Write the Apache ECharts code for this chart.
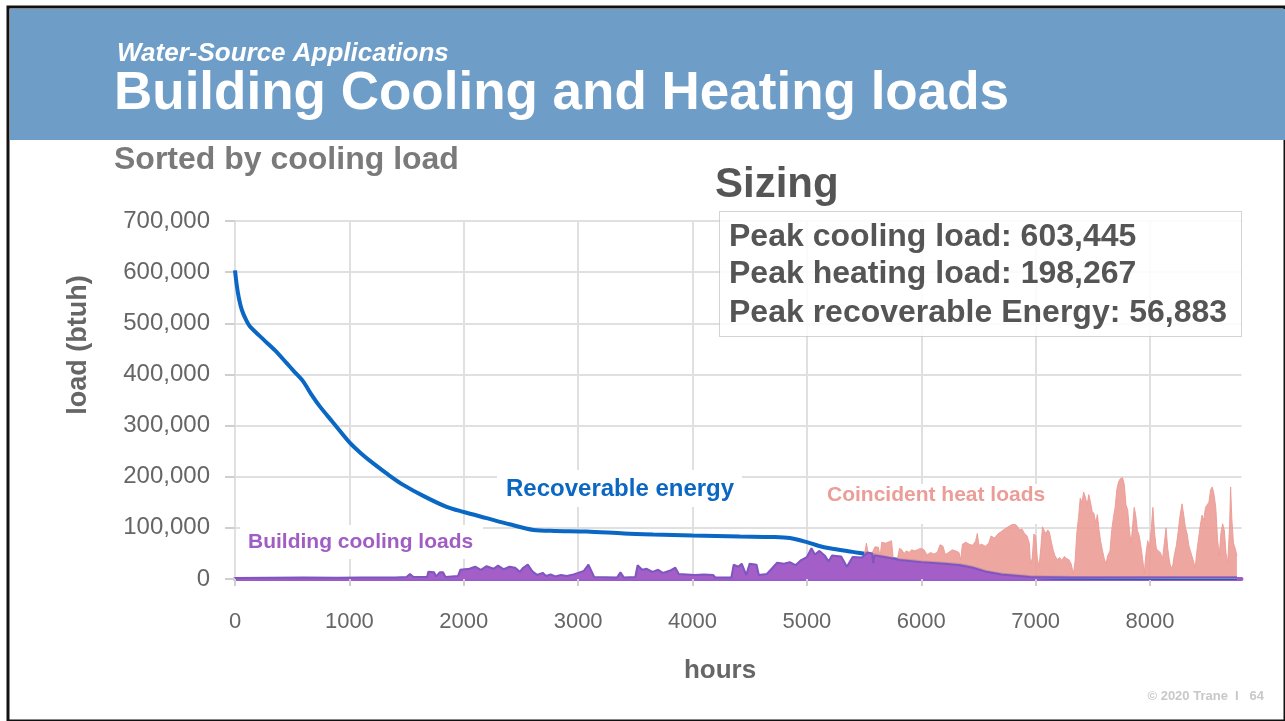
<!DOCTYPE html>
<html>
<head>
<meta charset="utf-8">
<title>Building Cooling and Heating loads</title>
<script src="https://cdn.jsdelivr.net/npm/echarts@6/dist/echarts.min.js"></script>
<style>
  html, body { margin: 0; padding: 0; background: #ffffff; }
  #chart { width: 1285px; height: 721px; }
</style>
</head>
<body>
<div id="chart"></div>
<script>
// Hours of the year, sorted by cooling load (descending)
const coolHours = [0, 15, 35, 60, 100, 130, 250, 350, 452, 520, 597, 670, 743, 850, 1005, 1100, 1209, 1340, 1471, 1650, 1850, 2000, 2200, 2400, 2608, 2800, 3074, 3400, 3657, 4000, 4414, 4700, 4850, 5000, 5100, 5200, 5400, 5600, 5810, 6000, 6200, 6340, 6450, 6570, 6700, 6850, 6950, 7300, 8760];
const coolLoads = [603445, 575000, 548000, 526000, 505000, 494000, 468000, 447000, 422000, 405000, 386000, 360000, 337000, 308000, 266000, 246000, 226000, 204000, 184000, 162000, 141000, 131000, 119000, 107000, 96000, 94000, 93000, 89000, 87000, 85000, 83000, 82000, 80000, 72000, 65000, 60000, 53000, 46000, 37000, 33000, 30000, 27000, 22000, 14000, 9000, 6000, 4000, 2500, 2000];

// Cooling load that can be served by simultaneous heating (purple area)
const recovHours = [0, 300, 600, 900, 1100, 1400, 1500, 1530, 1560, 1680, 1690, 1740, 1760, 1790, 1820, 1840, 1950, 1970, 2050, 2100, 2150, 2200, 2260, 2300, 2350, 2400, 2450, 2490, 2520, 2560, 2600, 2640, 2690, 2720, 2760, 2800, 2850, 2900, 2960, 3000, 3050, 3090, 3120, 3140, 3340, 3370, 3400, 3500, 3520, 3560, 3600, 3650, 3700, 3740, 3800, 3850, 3880, 3950, 4020, 4100, 4180, 4200, 4340, 4360, 4400, 4430, 4470, 4500, 4560, 4580, 4650, 4700, 4740, 4800, 4850, 4900, 4950, 5000, 5040, 5070, 5110, 5160, 5190, 5220, 5300, 5350, 5400, 5480, 5530, 5570, 5580, 5590, 5650, 5750, 5810, 6000, 6200, 6340, 6450, 6570, 6700, 6850, 6950, 7300, 8760];
const recovLoads = [2000, 2500, 3000, 2500, 3000, 3000, 4000, 10000, 4000, 4000, 14000, 13000, 5000, 13000, 13000, 4000, 6000, 18000, 20000, 24000, 18000, 25000, 20000, 26000, 19000, 24000, 22000, 14000, 22000, 28000, 15000, 8000, 12000, 6000, 9000, 5000, 8000, 6000, 9000, 12000, 16000, 28000, 14000, 4000, 3000, 13000, 3000, 4000, 27000, 18000, 20000, 14000, 18000, 12000, 16000, 22000, 10000, 9000, 8000, 9000, 8000, 3000, 3000, 28000, 24000, 30000, 8000, 30000, 28000, 8000, 10000, 22000, 32000, 30000, 33000, 27000, 37000, 43000, 60000, 48000, 55000, 45000, 34000, 46000, 44000, 24000, 43000, 42000, 52000, 50000, 31000, 46000, 44000, 40000, 37000, 33000, 30000, 27000, 22000, 14000, 9000, 6000, 4000, 3000, 3000];

// Heating load occurring in the same hours (pink area)
const heatHours = [5500, 5520, 5535, 5560, 5580, 5595, 5625, 5640, 5655, 5690, 5720, 5740, 5755, 5790, 5810, 5830, 5850, 5870, 5895, 5915, 5945, 5975, 5995, 6025, 6050, 6080, 6110, 6140, 6165, 6190, 6210, 6240, 6270, 6300, 6330, 6345, 6360, 6390, 6420, 6450, 6475, 6490, 6505, 6530, 6560, 6590, 6610, 6640, 6670, 6700, 6730, 6760, 6790, 6815, 6840, 6860, 6880, 6900, 6925, 6945, 6955, 6970, 6985, 7000, 7015, 7030, 7045, 7060, 7075, 7090, 7105, 7120, 7140, 7155, 7170, 7190, 7210, 7230, 7250, 7270, 7290, 7310, 7330, 7345, 7360, 7375, 7390, 7405, 7420, 7435, 7450, 7465, 7480, 7495, 7510, 7525, 7540, 7555, 7570, 7585, 7600, 7615, 7630, 7650, 7665, 7680, 7695, 7710, 7725, 7740, 7760, 7775, 7790, 7805, 7820, 7835, 7850, 7862, 7875, 7890, 7905, 7920, 7935, 7950, 7965, 7980, 7995, 8010, 8025, 8040, 8055, 8070, 8090, 8110, 8125, 8140, 8155, 8170, 8185, 8200, 8215, 8230, 8245, 8260, 8280, 8295, 8310, 8325, 8340, 8360, 8380, 8395, 8410, 8425, 8440, 8455, 8470, 8485, 8500, 8515, 8530, 8545, 8560, 8575, 8590, 8605, 8620, 8635, 8650, 8665, 8680, 8695, 8705, 8715, 8730, 8745, 8760];
const heatLoads = [42000, 70000, 52000, 48000, 55000, 63000, 62000, 45000, 72000, 70000, 73000, 75000, 40000, 38000, 60000, 57000, 50000, 55000, 52000, 57000, 55000, 58000, 60000, 57000, 47000, 52000, 49000, 52000, 67000, 64000, 48000, 52000, 57000, 55000, 52000, 37000, 68000, 72000, 68000, 66000, 74000, 89000, 66000, 68000, 64000, 70000, 84000, 80000, 88000, 93000, 98000, 102000, 106000, 108000, 103000, 96000, 98000, 90000, 84000, 70000, 30000, 40000, 88000, 84000, 40000, 24000, 60000, 102000, 95000, 88000, 96000, 92000, 70000, 55000, 45000, 38000, 42000, 36000, 44000, 40000, 38000, 30000, 10000, 35000, 90000, 120000, 158000, 150000, 170000, 160000, 145000, 165000, 150000, 132000, 128000, 110000, 126000, 95000, 72000, 55000, 40000, 30000, 45000, 55000, 95000, 120000, 140000, 175000, 190000, 196000, 198267, 185000, 145000, 135000, 95000, 70000, 110000, 140000, 125000, 95000, 85000, 65000, 40000, 12000, 50000, 75000, 62000, 95000, 140000, 90000, 60000, 55000, 52000, 40000, 70000, 100000, 60000, 35000, 20000, 28000, 50000, 65000, 90000, 120000, 147000, 125000, 100000, 88000, 65000, 50000, 35000, 22000, 55000, 80000, 105000, 125000, 115000, 140000, 145000, 150000, 175000, 180000, 165000, 140000, 80000, 45000, 90000, 108000, 95000, 50000, 32000, 100000, 180000, 120000, 70000, 60000, 45000];

// Axis ticks
const xTicks = [0, 1000, 2000, 3000, 4000, 5000, 6000, 7000, 8000];
const yTicks = [0, 100000, 200000, 300000, 400000, 500000, 600000, 700000];

// Sizing summary
const sizingLines = [
  'Peak cooling load: 603,445',
  'Peak heating load: 198,267',
  'Peak recoverable Energy: 56,883'
];

const pairs = (xs, ys) => xs.map((x, i) => [x, ys[i]]);

const FONT = 'Liberation Sans, Arial, Helvetica, sans-serif';
const chart = echarts.init(document.getElementById('chart'), null, { renderer: 'canvas' });

const txt = (x, y, text, size, color, opts = {}) => Object.assign({
  type: 'text', x, y, z: 120,
  style: Object.assign({
    text, fill: color,
    font: (opts.italic ? 'italic ' : '') + 'bold ' + size + 'px ' + FONT,
    textAlign: opts.align || 'left', textVerticalAlign: 'middle'
  }, opts.style || {})
}, opts.el || {});

chart.setOption({
  backgroundColor: '#ffffff',
  animation: false,
  grid: { left: 235, right: 43.5, top: 221, bottom: 142 },
  xAxis: {
    type: 'value', min: 0, max: 8800, interval: 1000,
    axisLine: { show: true, lineStyle: { color: '#9a5cc8', width: 4 } },
    axisTick: { show: true, length: 7, lineStyle: { color: '#cfcfcf', width: 2 } },
    axisLabel: {
      margin: 32, fontSize: 22, color: '#666666', fontFamily: FONT,
      showMaxLabel: false,
      formatter: v => (xTicks.indexOf(v) >= 0 ? String(v) : '')
    },
    splitLine: { show: true, showMaxLine: false, lineStyle: { color: '#e0e0e0', width: 2 } }
  },
  yAxis: {
    type: 'value', min: 0, max: 700000, interval: 100000,
    axisLine: { show: false },
    axisTick: { show: true, length: 10, lineStyle: { color: '#cfcfcf', width: 2 } },
    axisLabel: {
      margin: 25, fontSize: 24, color: '#666666', fontFamily: FONT,
      formatter: v => (yTicks.indexOf(v) >= 0 ? v.toLocaleString('en-US') : '')
    },
    splitLine: { show: true, lineStyle: { color: '#e0e0e0', width: 2 } }
  },
  series: [
    {
      name: 'Recoverable energy', type: 'line', z: 3,
      data: pairs(coolHours, coolLoads),
      smooth: 0.3, symbol: 'none',
      lineStyle: { color: '#0a67c3', width: 4 }
    },
    {
      name: 'Coincident heat loads', type: 'line', z: 4,
      data: pairs(heatHours, heatLoads),
      symbol: 'none',
      lineStyle: { color: '#ec9a94', width: 1, opacity: 0.9 },
      areaStyle: { color: '#ec9a94', opacity: 0.88 }
    },
    {
      name: 'Building cooling loads', type: 'line', z: 5,
      data: pairs(recovHours, recovLoads),
      symbol: 'none',
      lineStyle: { color: '#7f55c0', width: 2 },
      areaStyle: { color: '#a35ec8', opacity: 1 }
    }
  ],
  graphic: [
    // slide frame and header band
    { type: 'rect', z: 100, shape: { x: 8, y: 7, width: 1277, height: 714 }, style: { fill: 'none', stroke: '#111111', lineWidth: 3 } },
    { type: 'rect', z: 101, shape: { x: 10, y: 9, width: 1275, height: 131 }, style: { fill: '#6e9ec7' } },
    txt(117, 54, 'Water-Source Applications', 26, '#ffffff', { italic: true }),
    txt(114, 94, 'Building Cooling and Heating loads', 53, '#ffffff'),
    txt(114, 160, 'Sorted by cooling load', 32, '#7a7a7a'),

    // sizing summary
    txt(715, 185, 'Sizing', 42, '#555555'),
    { type: 'rect', z: 110, shape: { x: 719.5, y: 211.5, width: 522, height: 125 },
      style: { fill: 'rgba(255,255,255,0.85)', stroke: '#a8a8a8', lineWidth: 1, lineDash: [1, 1] } },
    txt(729, 237, sizingLines[0], 32, '#555555'),
    txt(729, 274, sizingLines[1], 32, '#555555'),
    txt(729, 313, sizingLines[2], 32, '#555555'),

    // series labels
    { type: 'rect', z: 110, shape: { x: 497, y: 470, width: 245, height: 37 }, style: { fill: '#ffffff' } },
    txt(506, 489, 'Recoverable energy', 24, '#0b67c2'),
    { type: 'rect', z: 110, shape: { x: 815, y: 484, width: 244, height: 40 }, style: { fill: '#ffffff' } },
    txt(827, 495, 'Coincident heat loads', 21, '#eb9d97'),
    { type: 'rect', z: 110, shape: { x: 240, y: 525, width: 243, height: 34 }, style: { fill: '#ffffff' } },
    txt(248, 542, 'Building cooling loads', 21, '#a05dc4'),

    // axis titles
    txt(720, 671, 'hours', 26, '#666666', { align: 'center' }),
    txt(0, 0, 'load (btuh)', 27, '#666666', { align: 'center', el: { x: 79, y: 345, rotation: Math.PI / 2 } }),

    // footer
    txt(1264, 696, '\u00a9 2020 Trane  I   64', 13, '#c8c8c8', { align: 'right' })
  ]
});
</script>
</body>
</html>
